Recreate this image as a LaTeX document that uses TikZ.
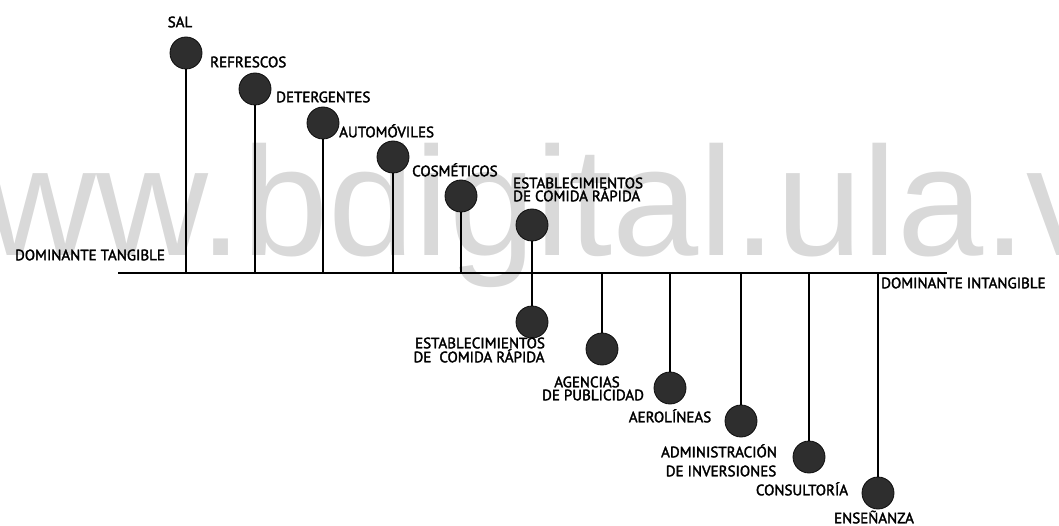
\documentclass[tikz,border=0pt]{standalone}
\usepackage{fontspec}
\newfontfamily\wmfont{Liberation Sans}
\newfontfamily\lblfont[FakeBold=2.2]{PT Sans}
\begin{document}
\begin{tikzpicture}[x=1pt,y=-1pt,
  lbl/.style={font=\lblfont\fontsize{15}{15}\selectfont, inner sep=0pt, text height=10.5pt, text depth=0pt},
  dot/.style={circle, fill=black!82, draw=black!95, line width=0.8pt, minimum size=32pt, inner sep=0pt},
  stem/.style={line width=1.8pt},
  axisline/.style={line width=2pt}]
\useasboundingbox (0,0) rectangle (1059,526);
\begin{scope}
\clip (0,0) rectangle (1059,526);
\node[anchor=base west, inner sep=0pt, text=black!15, font=\wmfont\fontsize{155}{155}\selectfont] (wm) at (-128,256) {www.bdigital.ula.ve};
\end{scope}

% axis
\coordinate (L) at (118,273);
\coordinate (R) at (947,273);
\draw[axisline] (L) -- (R);

% top items
\foreach \n/\x/\y in {1/186/53, 2/255/89, 3/323/123, 4/393/157, 5/461/196, 6/532/225}{
  \coordinate (a\n) at (\x,273);
  \node[dot] (c\n) at (\x,\y) {};
  \draw[stem] (c\n) -- (a\n);
}
% bottom items
\foreach \n/\x/\y in {7/532/322, 8/602/349, 9/670/388, 10/741/421, 11/809/457, 12/878/493}{
  \coordinate (a\n) at (\x,273);
  \node[dot] (c\n) at (\x,\y) {};
  \draw[stem] (a\n) -- (c\n);
}

% labels
\node[lbl] (tSal) at (180,22) {SAL};
\node[lbl, anchor=west] (tRef) at (210,62) {REFRESCOS};
\node[lbl, anchor=west] (tDet) at (276,97) {DETERGENTES};
\node[lbl, anchor=west] (tAut) at (339,132) {AUTOMÓVILES};
\node[lbl, anchor=west] (tCos) at (412,171) {COSMÉTICOS};
\node[lbl, anchor=west] (tEstA1) at (513,183) {ESTABLECIMIENTOS};
\node[lbl, anchor=west] (tEstA2) at (513,196) {DE COMIDA RÁPIDA};

\node[lbl] (tEstB1) at (480,343) {ESTABLECIMIENTOS};
\node[lbl] (tEstB2) at (479,357) {DE\ \ COMIDA RÁPIDA};
\node[lbl] (tAge1) at (587,382) {AGENCIAS};
\node[lbl] (tAge2) at (593,395) {DE PUBLICIDAD};
\node[lbl] (tAer) at (670,417) {AEROLÍNEAS};
\node[lbl] (tAdm1) at (719,452) {ADMINISTRACIÓN};
\node[lbl] (tAdm2) at (721,471) {DE INVERSIONES};
\node[lbl] (tCon) at (802,490) {CONSULTORÍA};
\node[lbl] (tEns) at (874,518) {ENSEÑANZA};

\node[lbl] (tTang) at (90,255) {DOMINANTE TANGIBLE};
\node[lbl, anchor=west] (tInt) at (881,283) {DOMINANTE INTANGIBLE};
\end{tikzpicture}
\end{document}
